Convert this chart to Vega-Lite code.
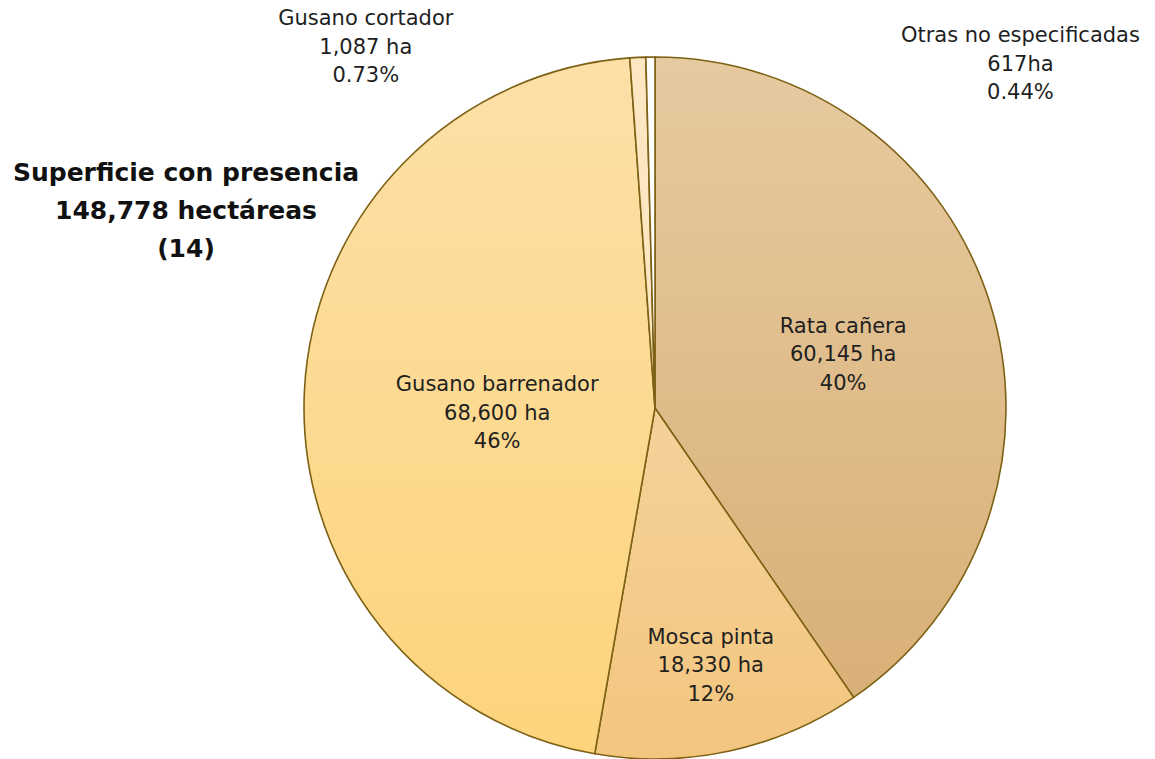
{
  "$schema": "https://vega.github.io/schema/vega-lite/v6.json",
  "width": 702,
  "height": 702,
  "autosize": {"type": "none"},
  "padding": {"left": 304, "top": 57, "right": 149, "bottom": 0},
  "background": "white",
  "layer": [
    {
      "data": {
        "values": [
          {"plaga": "Rata cañera", "hectareas": 60145, "ha": "60,145 ha", "pct": "40%", "orden": 1},
          {"plaga": "Mosca pinta", "hectareas": 18330, "ha": "18,330  ha", "pct": "12%", "orden": 2},
          {"plaga": "Gusano barrenador", "hectareas": 68600, "ha": "68,600 ha", "pct": "46%", "orden": 3},
          {"plaga": "Gusano cortador", "hectareas": 1087, "ha": "1,087 ha", "pct": "0.73%", "orden": 4},
          {"plaga": "Otras no especificadas", "hectareas": 617, "ha": "617ha", "pct": "0.44%", "orden": 5}
        ]
      },
      "transform": [{"calculate": "[datum.plaga, datum.ha, datum.pct]", "as": "etiqueta"}],
      "encoding": {
        "theta": {"field": "hectareas", "type": "quantitative", "stack": true},
        "order": {"field": "orden", "type": "quantitative"}
      },
      "layer": [
        {
          "mark": {"type": "arc", "outerRadius": 351, "stroke": "#7d6114", "strokeWidth": 1.6},
          "encoding": {
            "fill": {
              "condition": [
                {"test": "datum.plaga === 'Rata cañera'", "value": {"gradient": "linear", "x1": 0, "y1": 0, "x2": 0, "y2": 1, "stops": [{"offset": 0, "color": "#e6caa0"}, {"offset": 1, "color": "#d9b077"}]}},
                {"test": "datum.plaga === 'Mosca pinta'", "value": {"gradient": "linear", "x1": 0, "y1": 0, "x2": 0, "y2": 1, "stops": [{"offset": 0, "color": "#f5d19a"}, {"offset": 1, "color": "#f3c67e"}]}},
                {"test": "datum.plaga === 'Gusano barrenador'", "value": {"gradient": "linear", "x1": 0, "y1": 0, "x2": 0, "y2": 1, "stops": [{"offset": 0, "color": "#fde0a8"}, {"offset": 1, "color": "#fdd47c"}]}},
                {"test": "datum.plaga === 'Gusano cortador'", "value": "#fde6c2"}
              ],
              "value": "#ffffff"
            }
          }
        },
        {
          "mark": {"type": "text", "radius": 197, "dy": -23, "font": "DejaVu Sans", "fontSize": 21, "lineHeight": 28.5, "align": "center", "baseline": "middle", "color": "#1f1f1f"},
          "encoding": {"text": {"condition": {"test": "datum.plaga === 'Rata cañera'", "field": "etiqueta"}, "value": ""}}
        },
        {
          "mark": {"type": "text", "radius": 262, "dy": -26, "font": "DejaVu Sans", "fontSize": 21, "lineHeight": 28.5, "align": "center", "baseline": "middle", "color": "#1f1f1f"},
          "encoding": {"text": {"condition": {"test": "datum.plaga === 'Mosca pinta'", "field": "etiqueta"}, "value": ""}}
        },
        {
          "mark": {"type": "text", "radius": 158, "dy": -15, "font": "DejaVu Sans", "fontSize": 21, "lineHeight": 28.5, "align": "center", "baseline": "middle", "color": "#1f1f1f"},
          "encoding": {"text": {"condition": {"test": "datum.plaga === 'Gusano barrenador'", "field": "etiqueta"}, "value": ""}}
        },
        {
          "mark": {"type": "text", "radius": 351, "dx": -272, "dy": -38, "font": "DejaVu Sans", "fontSize": 21, "lineHeight": 28.5, "align": "center", "baseline": "middle", "color": "#1f1f1f"},
          "encoding": {"text": {"condition": {"test": "datum.plaga === 'Gusano cortador'", "field": "etiqueta"}, "value": ""}}
        },
        {
          "mark": {"type": "text", "radius": 351, "dx": 370, "dy": -21, "font": "DejaVu Sans", "fontSize": 21, "lineHeight": 28.5, "align": "center", "baseline": "middle", "color": "#1f1f1f"},
          "encoding": {"text": {"condition": {"test": "datum.plaga === 'Otras no especificadas'", "field": "etiqueta"}, "value": ""}}
        }
      ]
    },
    {
      "data": {"values": [{"titulo": ["Superficie con presencia", "148,778 hectáreas", "(14)"]}]},
      "mark": {"type": "text", "dx": -469, "dy": -235, "font": "DejaVu Sans", "fontSize": 25, "fontWeight": "bold", "lineHeight": 38, "align": "center", "baseline": "middle", "color": "#111111"},
      "encoding": {"text": {"field": "titulo"}}
    }
  ],
  "config": {"view": {"stroke": null}}
}
